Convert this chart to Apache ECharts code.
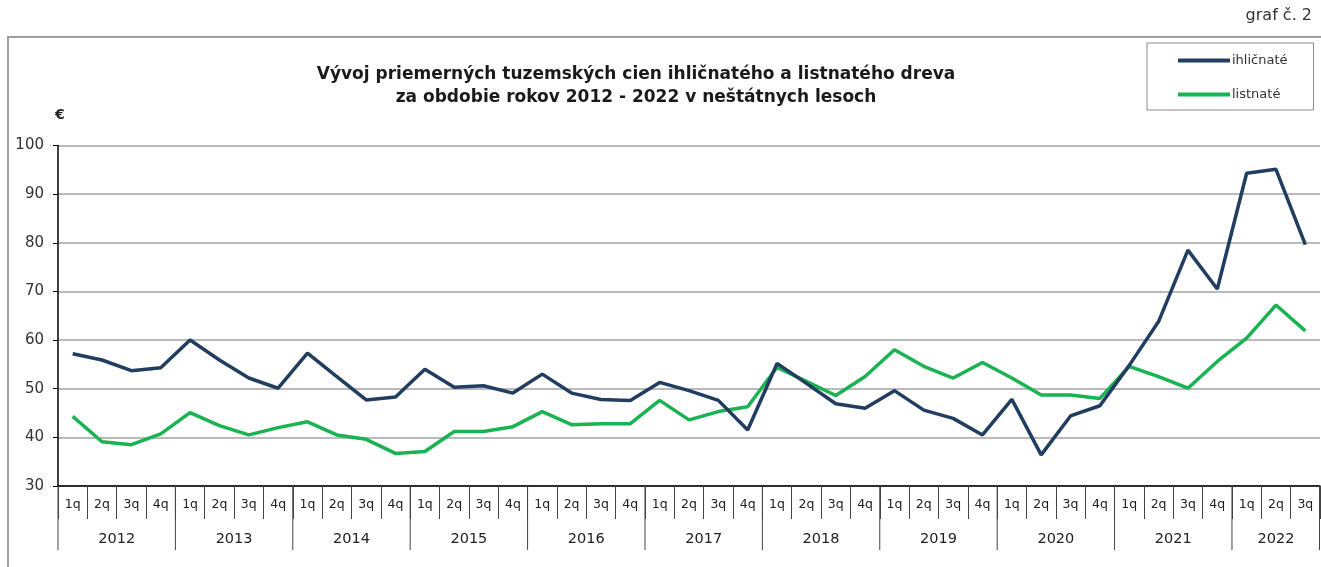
<!DOCTYPE html>
<html>
<head>
<meta charset="utf-8">
<script src="https://cdn.jsdelivr.net/npm/echarts@6/dist/echarts.min.js"></script>
<style>
html,body{margin:0;padding:0;background:#fff;}
#chart{width:1321px;height:567px;}
</style>
</head>
<body>
<div id="chart"></div>
<script>
// ---- data ----
const years = ['2012','2013','2014','2015','2016','2017','2018','2019','2020','2021','2022'];
const quartersPerYear = [4,4,4,4,4,4,4,4,4,4,3];
const quarterLabels = ['1q','2q','3q','4q'];
const ihlicnate = [
  57.2, 55.9, 53.7, 54.3,
  60.0, 55.9, 52.2, 50.1,
  57.3, 52.5, 47.7, 48.3,
  54.0, 50.3, 50.6, 49.1,
  53.0, 49.1, 47.8, 47.6,
  51.3, 49.6, 47.6, 41.5,
  55.2, 51.1, 46.9, 46.0,
  49.6, 45.6, 43.9, 40.5,
  47.8, 36.4, 44.4, 46.5,
  54.8, 63.8, 78.5, 70.5,
  94.3, 95.1, 79.6
];
const listnate = [
  44.3, 39.1, 38.5, 40.7,
  45.1, 42.4, 40.5, 42.0,
  43.2, 40.5, 39.6, 36.7,
  37.1, 41.2, 41.2, 42.2,
  45.3, 42.6, 42.8, 42.8,
  47.6, 43.6, 45.3, 46.3,
  54.4, 51.5, 48.6, 52.5,
  58.0, 54.6, 52.2, 55.4,
  52.2, 48.7, 48.7, 48.0,
  54.6, 52.5, 50.1, 55.6,
  60.4, 67.2, 61.9
];
const yTicks = [30,40,50,60,70,80,90,100];

// ---- derived ----
const categories = [];
const yearBlocks = [];
let idx = 0;
years.forEach((y, i) => {
  yearBlocks.push([idx, quartersPerYear[i]]);
  for (let q = 0; q < quartersPerYear[i]; q++) categories.push(quarterLabels[q]);
  idx += quartersPerYear[i];
});

const chart = echarts.init(document.getElementById('chart'));
const FONT = '"DejaVu Sans", "Liberation Sans", Arial, sans-serif';

chart.setOption({
  animation: false,
  backgroundColor: '#fff',
  title: {
    text: 'Vývoj priemerných tuzemských cien ihličnatého a listnatého dreva\nza obdobie rokov 2012 - 2022 v neštátnych lesoch',
    left: 631, top: 58, textAlign: 'center',
    textStyle: {fontFamily: FONT, fontSize: 17, fontWeight: 'bold', color: '#1a1a1a', lineHeight: 23}
  },
  legend: {
    left: 1147, top: 43, orient: 'vertical',
    borderColor: '#8c8c8c', borderWidth: 1,
    padding: [11, 26, 9, 31],
    itemGap: 21, itemWidth: 52, itemHeight: 4,
    icon: 'rect',
    textStyle: {fontFamily: FONT, fontSize: 13, color: '#333', padding: [0,0,0,-3]},
    data: ['ihličnaté', 'listnaté']
  },
  graphic: [
    {type: 'polyline', shape: {points: [[8,567],[8,37],[1321,37]]}, style: {stroke: '#a0a0a0', lineWidth: 2, fill: null}, silent: true},
    {type: 'text', left: 55, top: 108, style: {text: '€', font: 'bold 14px ' + FONT, fill: '#222'}},
    {type: 'text', right: 9, top: 8, style: {text: 'graf č. 2', font: '16px ' + FONT, fill: '#333'}}
  ],
  grid: {left: 58, right: 1, top: 145.5, bottom: 81},
  xAxis: {
    type: 'category', data: categories, boundaryGap: true,
    axisLine: {show: true, lineStyle: {color: '#000', width: 1.5}},
    axisTick: {show: true, interval: 0, length: 33, lineStyle: {color: '#444', width: 1}},
    axisLabel: {interval: 0, margin: 12, fontFamily: FONT, fontSize: 12.5, color: '#222'},
    splitLine: {show: false}
  },
  yAxis: {
    type: 'value', min: 30, max: 100, interval: 10,
    axisLine: {show: true, lineStyle: {color: '#000', width: 1.5}},
    axisTick: {show: true, length: 5, lineStyle: {color: '#000'}},
    axisLabel: {margin: 14, fontFamily: FONT, fontSize: 15, color: '#333',
      formatter: v => yTicks.includes(v) ? String(v) : ''},
    splitLine: {show: true, lineStyle: {color: '#a3a3a3', width: 1.5}}
  },
  series: [
    {
      name: 'ihličnaté', type: 'line', data: ihlicnate, symbol: 'none',
      lineStyle: {color: '#213d5f', width: 3.5}, itemStyle: {color: '#213d5f'}, z: 3
    },
    {
      name: 'listnaté', type: 'line', data: listnate, symbol: 'none',
      lineStyle: {color: '#1ab352', width: 3.5}, itemStyle: {color: '#1ab352'}, z: 2
    },
    {
      type: 'custom', silent: true, clip: false, z: 1,
      data: yearBlocks,
      encode: {x: 0},
      renderItem: function (params, api) {
        const start = api.value(0), cnt = api.value(1);
        const p = api.coord([start, 30]);
        const w = api.size([1, 0])[0];
        const x0 = p[0] - w / 2, x1 = x0 + cnt * w, y0 = p[1];
        const children = [
          {type: 'line', shape: {x1: x0, y1: y0, x2: x0, y2: y0 + 64}, style: {stroke: '#444', lineWidth: 1}},
          {type: 'text', x: (x0 + x1) / 2, y: y0 + 53,
           style: {text: years[params.dataIndex], font: '14.5px ' + FONT, fill: '#222', textAlign: 'center', textVerticalAlign: 'middle'}}
        ];
        if (params.dataIndex === years.length - 1) {
          children.push({type: 'line', shape: {x1: x1 - 0.5, y1: y0, x2: x1 - 0.5, y2: y0 + 64}, style: {stroke: '#444', lineWidth: 1}});
        }
        return {type: 'group', children: children};
      }
    }
  ]
});
</script>
</body>
</html>
